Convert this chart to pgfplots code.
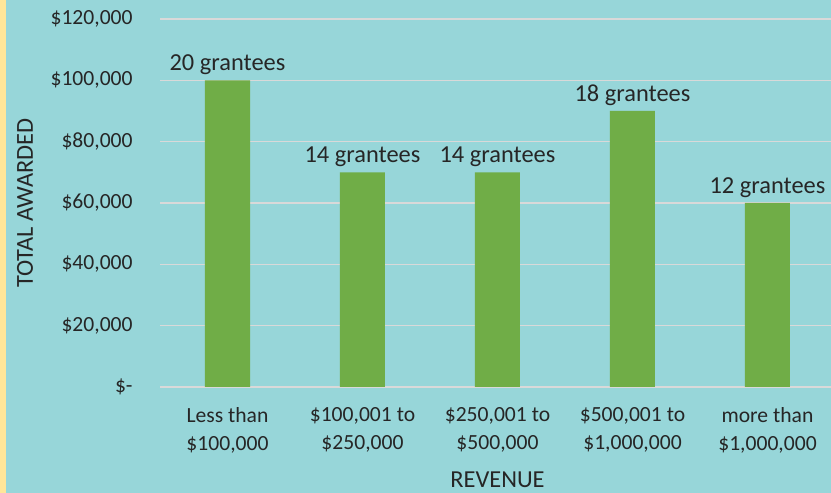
\documentclass[border=0pt]{standalone}
\usepackage{pgfplots}
\pgfplotsset{compat=1.18}
\usepackage{fontspec}
\setmainfont{Carlito}
\definecolor{bg}{HTML}{97D6D9}
\definecolor{strip}{HTML}{FFE699}
\definecolor{barc}{HTML}{70AD47}
\definecolor{gridc}{HTML}{D9D9D9}
\definecolor{txt}{HTML}{262626}
\begin{document}
\begin{tikzpicture}
\useasboundingbox (0,0) rectangle (415.5pt,246.5pt);
\fill[bg] (0,0) rectangle (415.5pt,246.5pt);
\fill[strip] (0,0) rectangle (3pt,246.5pt);
\begin{scope}
\clip (0,0) rectangle (415.5pt,246.5pt);
\begin{axis}[
  at={(80pt,53pt)}, anchor=south west,
  scale only axis, width=337.5pt, height=184pt,
  xmin=-0.5, xmax=4.5, ymin=0, ymax=120000,
  scaled y ticks=false,
  axis line style={draw=none},
  ytick={0,20000,40000,60000,80000,100000,120000},
  yticklabels={{\$-\hspace{4.5pt}},{\$20,000},{\$40,000},{\$60,000},{\$80,000},{\$100,000},{\$120,000}},
  ymajorgrids, grid style={gridc, line width=0.75pt},
  ytick style={draw=none},
  yticklabel style={font=\fontsize{10.8}{12.5}\selectfont, text=txt, inner sep=0pt, anchor=east, xshift=-13.5pt},
  xtick={0,1,2,3,4},
  xticklabels={{Less than\\\$100,000},{\$100,001 to\\\$250,000},{\$250,001 to\\\$500,000},{\$500,001 to\\\$1,000,000},{more than\\\$1,000,000}},
  xticklabel style={font=\fontsize{10.8}{14}\selectfont, text=txt, align=center, inner sep=0pt, anchor=north, yshift=-10pt},
  major x tick style={draw=none},
  extra x ticks={-0.5,0.5,1.5,2.5,3.5,4.5},
  extra x tick labels={},
  extra x tick style={tick align=outside, major tick length=3pt, tick style={draw=gridc, line width=0.75pt}},
  ylabel={TOTAL AWARDED},
  ylabel style={font=\fontsize{12.2}{14}\selectfont, text=txt, at={(rel axis cs:0,0.5)}, anchor=center, yshift=67.5pt},
  xlabel={REVENUE},
  xlabel style={font=\fontsize{12.2}{14}\selectfont, text=txt, at={(rel axis cs:0.5,0)}, anchor=center, yshift=-46.5pt},
  clip=false,
]
\addplot[ybar, fill=barc, draw=none, bar width=22.5pt,
  nodes near coords, point meta=explicit symbolic,
  every node near coord/.append style={font=\fontsize{12.2}{14}\selectfont, text=txt, inner sep=0pt, anchor=south, yshift=2.5pt}]
coordinates {
(0,100000) [20 grantees]
(1,70000) [14 grantees]
(2,70000) [14 grantees]
(3,90000) [18 grantees]
(4,60000) [12 grantees]
};
\end{axis}
\end{scope}
\end{tikzpicture}
\end{document}
